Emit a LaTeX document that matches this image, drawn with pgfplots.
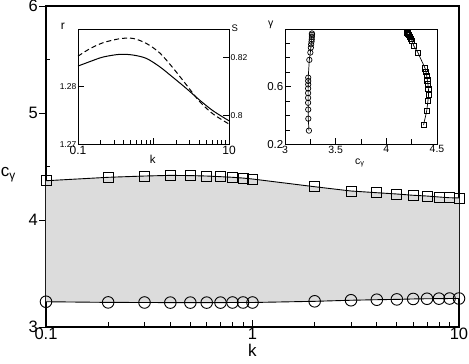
\documentclass[border=0pt]{standalone}
\usepackage{fontspec}
\setmainfont{Liberation Sans}
\usepackage{pgfplots}
\usepackage{pgfplotstable}
\pgfplotsset{compat=1.18}
\definecolor{bandgray}{RGB}{220,220,220}

% main panel: c_gamma of the two branches against k
\pgfplotstableread{
k    ci     sq
0.1  3.236  4.367
0.2  3.230  4.399
0.3  3.229  4.411
0.4  3.228  4.417
0.5  3.228  4.415
0.6  3.228  4.411
0.7  3.228  4.405
0.8  3.229  4.399
0.9  3.229  4.392
1    3.229  4.383
2    3.240  4.311
3    3.250  4.271
4    3.255  4.255
5    3.258  4.243
6    3.262  4.231
7    3.264  4.224
8    3.265  4.215
9    3.266  4.208
10   3.266  4.206
}\maindata

% inset 1: r (solid, left) and S (dashed, right)
\pgfplotstableread{
k      r        S
0.1    1.28358  0.82058
0.1428 1.28434  0.82314
0.2143 1.28514  0.82523
0.3565 1.28561  0.82663
0.535  1.28549  0.82674
0.804  1.28491  0.82500
1.207  1.28347  0.82174
1.812  1.28162  0.81651
2.72   1.27971  0.81070
4.08   1.27769  0.80488
6.14   1.27584  0.80058
10     1.27410  0.79709
}\rsdata

% inset 2: gamma against c_gamma
\pgfplotstableread{
c      g
3.236  0.296
3.230  0.379
3.229  0.442
3.228  0.489
3.228  0.523
3.228  0.556
3.228  0.588
3.229  0.616
3.229  0.640
3.229  0.663
3.240  0.786
3.250  0.837
3.255  0.871
3.258  0.894
3.262  0.913
3.264  0.929
3.265  0.946
3.266  0.960
3.266  0.969
}\circdata
\pgfplotstableread{
c      g
4.367  0.334
4.399  0.435
4.411  0.505
4.417  0.544
4.415  0.586
4.411  0.616
4.405  0.644
4.399  0.674
4.392  0.702
4.383  0.727
4.311  0.837
4.271  0.883
4.255  0.918
4.243  0.934
4.231  0.948
4.224  0.959
4.215  0.965
4.208  0.972
4.206  0.976
}\sqdata

\pgfplotsset{
  /pgf/number format/assume math mode=true,
  every axis/.append style={scale only axis, anchor=south west, clip=false},
}

\begin{document}
\begin{tikzpicture}
\useasboundingbox (0,0) rectangle (469pt,364pt);

\begin{axis}[
  at={(46pt,37pt)}, width=413pt, height=321pt,
  xmode=log, xmin=0.1, xmax=10, ymin=3, ymax=6,
  axis line style={line width=1.1pt},
  xtick={0.1,1,10}, xticklabels={0.1,1,10},
  minor xtick={0.2,0.3,0.4,0.5,0.6,0.7,0.8,0.9,2,3,4,5,6,7,8,9},
  ytick={3,4,5,6}, yticklabels={3,4,5,6},
  xtick pos=bottom, ytick pos=left,
  xtick align=inside, ytick align=outside,
  major tick length=7pt, minor tick length=4.5pt,
  every tick/.style={black, line width=0.9pt},
  extra y ticks={3.5,4.5,5.5}, extra y tick labels={},
  extra y tick style={ytick align=inside, major tick length=4.5pt},
  tick label style={font=\fontsize{16.5}{18}\selectfont, inner sep=1pt},
  xlabel={k}, xlabel style={font=\fontsize{17}{19}\selectfont, inner sep=1pt, yshift=-2pt},
]
\addplot[fill=bandgray, draw=none] coordinates {
  (0.1,4.367) (0.2,4.399) (0.3,4.411) (0.4,4.417) (0.5,4.415) (0.6,4.411)
  (0.7,4.405) (0.8,4.399) (0.9,4.392) (1,4.383) (2,4.311) (3,4.271)
  (4,4.255) (5,4.243) (6,4.231) (7,4.224) (8,4.215) (9,4.208) (10,4.206)
  (10,3.266) (9,3.266) (8,3.265) (7,3.264) (6,3.262) (5,3.258) (4,3.255)
  (3,3.250) (2,3.240) (1,3.229) (0.9,3.229) (0.8,3.229) (0.7,3.228)
  (0.6,3.228) (0.5,3.228) (0.4,3.228) (0.3,3.229) (0.2,3.230) (0.1,3.236)
};
\addplot[black, line width=0.9pt, mark=square, mark size=5pt,
  mark options={line width=0.9pt}] table[x=k, y=sq] {\maindata};
\addplot[black, line width=0.9pt, mark=o, mark size=5.8pt,
  mark options={line width=0.9pt}] table[x=k, y=ci] {\maindata};
\node[font=\fontsize{17}{19}\selectfont] at (axis description cs:-0.091,0.474) {c\textsubscript{γ}};
\end{axis}

% inset 1, left scale r
\begin{axis}[
  at={(78pt,219.5pt)}, width=151pt, height=115.5pt,
  xmode=log, xmin=0.1, xmax=10, ymin=1.27, ymax=1.29,
  axis line style={line width=0.9pt},
  xtick={0.1,1,10}, xticklabels={0.1,,10},
  minor xtick={0.2,0.3,0.4,0.5,0.6,0.7,0.8,0.9,2,3,4,5,6,7,8,9},
  ytick={1.27,1.28}, yticklabels={1.27,1.28},
  xtick pos=bottom, ytick pos=left, tick align=inside,
  major tick length=6pt, minor tick length=4pt,
  every tick/.style={black, line width=0.8pt},
  xticklabel style={font=\fontsize{12}{13}\selectfont, inner sep=1pt},
  yticklabel style={font=\fontsize{8.5}{9}\selectfont, inner sep=1.5pt},
]
\addplot[black, line width=1pt, smooth] table[x=k, y=r] {\rsdata};
\node[font=\fontsize{12}{13}\selectfont] at (axis description cs:-0.101,1.026) {r};
\node[font=\fontsize{11.5}{13}\selectfont] at (axis description cs:0.495,-0.126) {k};
\end{axis}

% inset 1, right scale S
\begin{axis}[
  at={(78pt,219.5pt)}, width=151pt, height=115.5pt,
  xmode=log, xmin=0.1, xmax=10, ymin=0.79, ymax=0.83,
  axis x line=none, axis y line*=right,
  axis line style={line width=0.9pt},
  ytick={0.8,0.82}, yticklabels={0.8,0.82},
  tick align=inside, major tick length=6pt,
  every tick/.style={black, line width=0.8pt},
  yticklabel style={font=\fontsize{8.5}{9}\selectfont, inner sep=1.5pt},
]
\addplot[black, line width=1pt, smooth, dash pattern=on 5pt off 3pt] table[x=k, y=S] {\rsdata};
\node[font=\fontsize{9.5}{11}\selectfont] at (axis description cs:1.038,1.009) {S};
\end{axis}

% inset 2
\begin{axis}[
  at={(285pt,219.5pt)}, width=152pt, height=115.5pt,
  xmin=3, xmax=4.5, ymin=0.2, ymax=1,
  axis line style={line width=0.9pt},
  xtick={3,3.5,4,4.5}, xticklabels={3,3.5,4,4.5},
  minor xtick={3.25,3.75,4.25},
  ytick={0.2,0.6}, yticklabels={0.2,0.6},
  minor ytick={0.3,0.4,0.5,0.7,0.8,0.9},
  xtick pos=bottom, ytick pos=left, tick align=inside,
  major tick length=6pt, minor tick length=5pt,
  every tick/.style={black, line width=0.8pt},
  xticklabel style={font=\fontsize{10.5}{12}\selectfont, inner sep=1pt},
  yticklabel style={font=\fontsize{11.5}{13}\selectfont, inner sep=1.5pt},
]
\addplot[black, line width=0.7pt, mark=o, mark size=2.7pt,
  mark options={line width=0.7pt}] table[x=c, y=g] {\circdata};
\addplot[black, line width=0.7pt, mark=square, mark size=2.6pt,
  mark options={line width=0.7pt}] table[x=c, y=g] {\sqdata};
\node[font=\fontsize{10.5}{12}\selectfont] at (axis description cs:-0.094,1.035) {γ};
\node[font=\fontsize{10.5}{12}\selectfont] at (axis description cs:0.493,-0.16) {c\textsubscript{γ}};
\end{axis}
\end{tikzpicture}
\end{document}
